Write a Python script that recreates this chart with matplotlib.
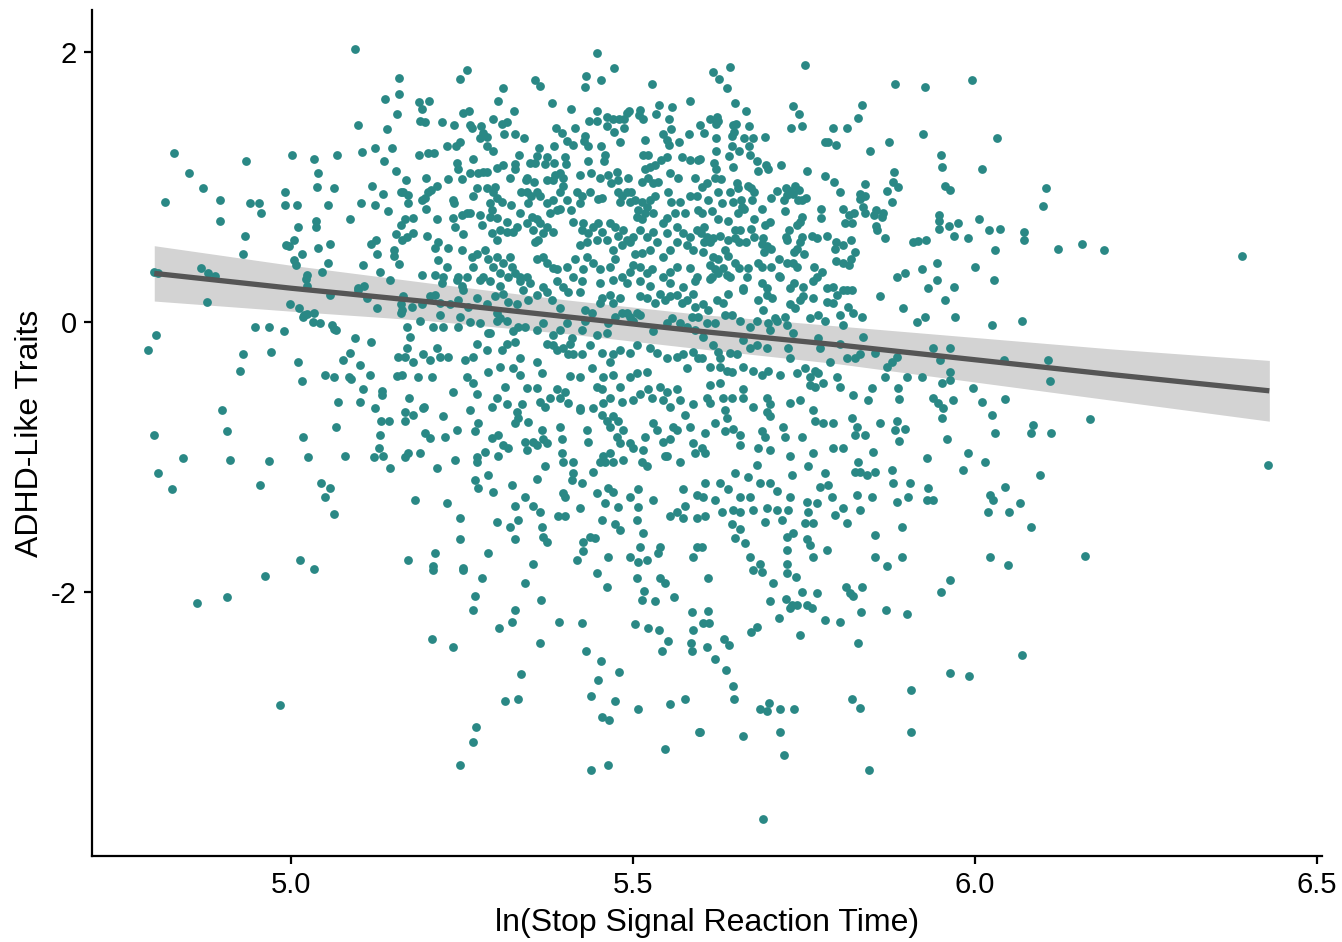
import numpy as np
import matplotlib
matplotlib.use('Agg')
import matplotlib.pyplot as plt

plt.rcParams['font.family'] = ['Liberation Sans', 'DejaVu Sans']

# points, (ln SSRT, ADHD-like traits), grouped by area
left_top = [(5.094,2.02),(5.158,1.81),(5.158,1.69),(5.137,1.65),(5.155,1.54),(5.098,1.46),(5.140,1.43),
    (4.829,1.25),(4.934,1.19),(5.001,1.24),(5.034,1.21),(5.067,1.24),(5.104,1.26),(5.123,1.29),(5.148,1.29),
    (5.136,1.19),(5.154,1.12),(4.851,1.10),(5.039,1.10),(4.871,0.99),(5.038,1.00),(5.063,0.99),(5.118,1.01),
    (5.134,0.95),(5.161,0.96),(4.816,0.89),(4.896,0.90),(4.940,0.88),(4.953,0.88),(4.956,0.81),(4.991,0.96),
    (4.991,0.87),(5.009,0.87),(5.054,0.87),(5.102,0.88),(5.123,0.87),(5.142,0.82),(4.896,0.75),(5.037,0.75),
    (5.037,0.70),(5.010,0.70),(5.086,0.76),(5.161,0.72),(4.933,0.64),(5.004,0.61),(4.993,0.57),(4.997,0.56),
    (5.016,0.50),(5.039,0.55),(5.057,0.58),(5.117,0.58),(5.124,0.61),(5.154,0.65),(5.151,0.53),(5.151,0.49),
    (5.126,0.50),(4.930,0.50),(5.004,0.46),(5.007,0.42),(5.054,0.44),(5.105,0.42),(5.158,0.43),(4.868,0.40),
    (4.879,0.36),(4.889,0.34),(4.800,0.37),(4.806,0.36),(5.023,0.35),(5.022,0.32),(5.023,0.27),(5.045,0.37),
    (5.130,0.37),(5.145,0.31),(5.107,0.27),(5.098,0.25)]

left_mid = [(4.877,0.15),(4.999,0.13),(5.012,0.10),(5.019,0.05),(5.023,0.06),(5.018,0.04),(5.034,0.07),
    (5.057,0.20),(5.098,0.24),(5.111,0.18),(5.126,0.10),(5.161,0.13),(5.161,0.07),(5.032,0.00),(5.042,-0.01),
    (5.060,-0.02),(5.063,-0.05),(5.066,-0.06),(4.947,-0.04),(4.968,-0.04),(4.990,-0.07),(4.803,-0.10),
    (4.791,-0.21),(5.094,-0.12),(5.117,-0.15),(4.930,-0.24),(4.971,-0.22),(5.010,-0.30),(5.086,-0.23),
    (5.076,-0.28),(5.101,-0.32),(5.156,-0.26),(4.925,-0.36),(5.016,-0.44),(5.050,-0.39),(5.063,-0.41),
    (5.085,-0.41),(5.088,-0.42),(5.115,-0.39),(5.155,-0.40),(5.105,-0.50),(5.133,-0.51),(5.133,-0.54),
    (5.069,-0.59),(5.101,-0.59),(5.123,-0.64),(4.899,-0.65),(5.132,-0.73),(5.143,-0.73),(5.066,-0.78),
    (4.906,-0.81),(4.800,-0.84),(5.018,-0.85),(5.130,-0.84),(5.129,-0.93),(5.121,-1.00),(5.134,-0.99),
    (5.079,-0.99),(5.025,-1.00),(4.842,-1.01),(4.911,-1.02),(4.968,-1.03),(5.145,-1.08),(4.806,-1.12),
    (4.826,-1.24),(4.955,-1.21),(5.044,-1.19),(5.057,-1.23),(5.050,-1.30),(5.063,-1.42),(5.013,-1.76),
    (5.034,-1.83),(4.863,-2.08),(4.906,-2.04),(4.962,-1.88),(4.984,-2.84)]

right_side = [(6.104,0.99),(6.099,0.86),(6.072,0.67),(6.072,0.61),(6.121,0.54),(6.156,0.58),(6.189,0.53),
    (6.390,0.49),(6.069,0.01),(6.042,-0.28),(6.107,-0.28),(6.110,-0.44),(6.044,-0.57),(6.168,-0.72),
    (6.085,-0.76),(6.082,-0.82),(6.111,-0.82),(6.428,-1.06),(6.095,-1.13),(6.044,-1.22),(6.066,-1.34),
    (6.050,-1.41),(6.082,-1.52),(6.161,-1.73),(6.048,-1.80),(6.069,-2.47)]

upper_right = [(5.617,1.85),(5.642,1.89),(5.626,1.80),(5.637,1.73),(5.751,1.90),(5.883,1.76),(5.927,1.74),
    (5.996,1.79),(5.649,1.62),(5.665,1.56),(5.734,1.60),(5.743,1.54),(5.835,1.61),(5.829,1.51),(5.731,1.44),
    (5.747,1.45),(5.792,1.44),(5.813,1.44),(5.924,1.39),(6.032,1.36),(5.781,1.33),(5.785,1.33),(5.797,1.31),
    (5.874,1.33),(5.846,1.27),(5.950,1.24),(5.952,1.15),(6.010,1.13),(5.716,1.16),(5.754,1.12),(5.781,1.08),
    (5.794,1.04),(5.803,0.96),(5.882,1.11),(5.880,1.04),(5.887,1.00),(5.839,1.02),(5.871,0.97),(5.956,1.01),
    (5.963,0.98),(5.832,0.95),(5.839,0.93),(5.832,0.91),(5.879,0.89),(5.807,0.84),(5.775,0.84),(5.775,0.77),
    (5.823,0.81),(5.816,0.79),(5.810,0.73),(5.820,0.73),(5.836,0.85),(5.839,0.81),(5.855,0.83),(5.865,0.81),
    (5.852,0.79),(5.864,0.78),(5.855,0.71),(5.857,0.68),(5.868,0.62),(5.947,0.79),(5.947,0.75),(5.947,0.69),
    (5.962,0.71),(5.975,0.73),(6.006,0.76),(6.020,0.68),(6.037,0.69),(5.969,0.64),(5.990,0.62),(5.909,0.59),
    (5.917,0.60),(5.928,0.61),(6.029,0.53),(5.944,0.44),(6.000,0.41),(5.922,0.39),(5.886,0.33),(5.898,0.36),
    (5.944,0.31),(6.028,0.31),(5.969,0.26),(5.931,0.25),
    (5.598,1.46),(5.604,1.40),(5.613,1.50),(5.623,1.52),(5.621,1.47),(5.624,1.49),(5.646,1.46),(5.651,1.47),
    (5.645,1.38),(5.648,1.41),(5.670,1.45),(5.621,1.36),(5.662,1.36),(5.675,1.36),(5.693,1.37),(5.670,1.30),
    (5.671,1.24),(5.645,1.30),(5.655,1.27),(5.640,1.23),(5.621,1.27),(5.598,1.21),(5.618,1.18),(5.621,1.13),
    (5.646,1.15),(5.681,1.19),(5.683,1.12),(5.694,1.16),(5.697,1.13),(5.608,1.03),(5.601,1.00),(5.620,1.07),
    (5.629,1.06),(5.652,1.03),(5.654,0.99),(5.668,1.01),(5.673,0.99),(5.677,0.96),(5.674,0.90),(5.642,0.96),
    (5.711,0.97),(5.724,0.99),(5.730,0.97),(5.737,1.01),(5.743,0.98),(5.734,0.95),(5.725,0.94),(5.624,0.96),
    (5.610,0.90),(5.630,0.88),(5.646,0.89),(5.658,0.90),(5.659,0.85),(5.702,0.92),(5.721,0.90),(5.741,0.90),
    (5.753,0.92),(5.747,0.90),(5.689,0.84),(5.722,0.82),(5.615,0.82),(5.601,0.81),(5.624,0.76),(5.639,0.75),
    (5.654,0.81),(5.662,0.84),(5.677,0.76),(5.693,0.72),(5.700,0.74),(5.744,0.74),(5.747,0.78),(5.740,0.72),
    (5.728,0.68),(5.724,0.63),(5.725,0.61),(5.673,0.69),(5.649,0.68),(5.656,0.68),(5.604,0.70),(5.599,0.66),
    (5.608,0.63),(5.617,0.62),(5.613,0.59),(5.604,0.59),(5.627,0.64),(5.639,0.61),(5.649,0.62),(5.677,0.63),
    (5.690,0.62),(5.689,0.58),(5.696,0.56),(5.702,0.54),(5.692,0.52),(5.655,0.59),(5.665,0.59),(5.747,0.63),
    (5.744,0.59),(5.740,0.54),(5.735,0.52),(5.762,0.64),(5.769,0.62),(5.784,0.64),(5.797,0.59),(5.795,0.54),
    (5.807,0.57),(5.819,0.61),(5.825,0.52),(5.819,0.47),(5.816,0.42),(5.807,0.44),(5.797,0.45),(5.750,0.50),
    (5.713,0.47),(5.725,0.44),(5.734,0.44),(5.740,0.41),(5.765,0.41),(5.776,0.37),(5.769,0.33),(5.763,0.30),
    (5.702,0.41),(5.713,0.34),(5.715,0.33),(5.668,0.40),(5.667,0.33),(5.683,0.44),(5.689,0.41),(5.602,0.52),
    (5.617,0.48),(5.624,0.47),(5.635,0.53),(5.639,0.49),(5.649,0.44),(5.655,0.40),(5.613,0.42),(5.620,0.39),
    (5.616,0.33),(5.624,0.36),(5.632,0.40),(5.637,0.35),(5.642,0.33),(5.613,0.32),(5.735,0.29),(5.749,0.26),
    (5.729,0.25),(5.784,0.25),(5.792,0.26),(5.807,0.24),(5.820,0.24),(5.689,0.29),(5.696,0.25),(5.661,0.25)]

upper_center = [(5.447,1.99),(5.472,1.88),(5.257,1.87),(5.247,1.80),(5.357,1.79),(5.364,1.75),(5.431,1.82),
    (5.430,1.74),(5.453,1.79),(5.528,1.76),(5.583,1.64),(5.310,1.73),(5.303,1.64),(5.187,1.63),(5.202,1.64),
    (5.192,1.58),(5.382,1.62),(5.409,1.58),(5.447,1.56),(5.251,1.55),(5.260,1.56),(5.326,1.56),(5.491,1.55),
    (5.494,1.56),(5.487,1.50),(5.510,1.57),(5.509,1.53),(5.515,1.50),(5.538,1.61),(5.534,1.54),(5.557,1.59),
    (5.462,1.52),(5.471,1.50),(5.480,1.50),(5.462,1.45),(5.436,1.49),(5.447,1.49),(5.430,1.38),(5.472,1.41),
    (5.481,1.33),(5.487,1.44),(5.553,1.50),(5.556,1.43),(5.582,1.39),(5.518,1.35),(5.544,1.39),(5.550,1.35),
    (5.553,1.31),(5.567,1.33),(5.189,1.49),(5.196,1.48),(5.221,1.48),(5.238,1.46),(5.262,1.46),(5.265,1.44),
    (5.278,1.45),(5.281,1.40),(5.276,1.36),(5.287,1.37),(5.295,1.50),(5.308,1.47),(5.316,1.48),(5.311,1.39),
    (5.327,1.39),(5.341,1.36),(5.387,1.44),(5.396,1.40),(5.404,1.34),(5.412,1.31),(5.415,1.44),(5.428,1.34),
    (5.434,1.30),(5.453,1.30),(5.228,1.30),(5.241,1.30),(5.247,1.33),(5.187,1.24),(5.200,1.25),(5.209,1.25),
    (5.287,1.30),(5.295,1.27),(5.333,1.24),(5.363,1.29),(5.360,1.23),(5.374,1.22),(5.385,1.30),(5.401,1.22),
    (5.459,1.24),(5.458,1.19),(5.434,1.19),(5.515,1.24),(5.522,1.24),(5.541,1.20),(5.550,1.22),(5.572,1.22),
    (5.595,1.20),(5.583,1.20),(5.266,1.21),(5.243,1.18),(5.244,1.13),(5.250,1.06),(5.310,1.16),(5.301,1.14),
    (5.281,1.11),(5.273,1.10),(5.262,1.10),(5.287,1.11),(5.327,1.17),(5.327,1.13),(5.320,1.07),(5.349,1.18),
    (5.357,1.18),(5.371,1.17),(5.385,1.18),(5.402,1.17),(5.393,1.10),(5.345,1.07),(5.344,1.05),(5.355,1.04),
    (5.374,1.05),(5.386,1.09),(5.398,1.07),(5.398,1.01),(5.383,1.05),(5.422,1.09),(5.439,1.10),(5.452,1.07),
    (5.463,1.09),(5.477,1.11),(5.468,1.03),(5.478,1.05),(5.493,1.07),(5.518,1.13),(5.525,1.15),(5.532,1.16),
    (5.513,1.04),(5.522,1.07),(5.529,1.03),(5.537,1.04),(5.554,1.10),(5.566,1.07),(5.591,1.07),(5.168,1.05),
    (5.197,1.07),(5.213,1.01),(5.230,1.06),(5.164,0.96),(5.171,0.94),(5.171,0.88),(5.205,0.98),(5.200,0.96),
    (5.196,0.92),(5.192,0.90),(5.197,0.84),(5.237,0.90),(5.238,0.88),(5.266,0.93),(5.272,0.99),(5.287,0.99),
    (5.298,1.00),(5.295,0.96),(5.301,0.92),(5.291,0.88),(5.308,0.89),(5.322,0.87),(5.336,0.96),(5.345,0.96),
    (5.351,0.93),(5.346,0.88),(5.360,0.96),(5.364,0.93),(5.374,0.88),(5.383,0.90),(5.393,0.96),(5.404,0.90),
    (5.409,0.83),(5.389,0.83),(5.379,0.81),(5.393,0.84),(5.418,0.96),(5.425,0.93),(5.437,0.96),(5.423,0.88),
    (5.449,0.91),(5.455,0.92),(5.478,0.96),(5.484,0.93),(5.491,0.96),(5.497,0.96),(5.481,0.89),(5.496,0.89),
    (5.503,0.90),(5.513,0.89),(5.525,0.90),(5.532,0.93),(5.520,0.85),(5.507,0.83),(5.518,0.81),(5.529,0.81),
    (5.551,0.96),(5.569,0.89),(5.556,0.89),(5.583,0.93),(5.594,0.93),(5.595,0.83),(5.576,0.81),(5.561,0.81),
    (5.550,0.77),(5.544,0.73),(5.237,0.77),(5.250,0.79),(5.257,0.81),(5.262,0.81),(5.240,0.70),(5.251,0.65),
    (5.276,0.79),(5.279,0.72),(5.294,0.83),(5.291,0.78),(5.301,0.77),(5.316,0.74),(5.335,0.81),(5.330,0.70),
    (5.325,0.67),(5.316,0.67),(5.306,0.68),(5.301,0.61),(5.294,0.66),(5.345,0.73),(5.352,0.78),(5.360,0.76),
    (5.354,0.68),(5.364,0.73),(5.374,0.70),(5.383,0.67),(5.368,0.66),(5.361,0.61),(5.357,0.59),(5.412,0.74),
    (5.425,0.68),(5.427,0.73),(5.434,0.66),(5.442,0.70),(5.449,0.73),(5.455,0.67),(5.447,0.61),(5.433,0.59),
    (5.422,0.57),(5.466,0.73),(5.474,0.70),(5.478,0.64),(5.485,0.68),(5.491,0.61),(5.496,0.59),(5.484,0.57),
    (5.471,0.53),(5.462,0.61),(5.506,0.78),(5.513,0.76),(5.510,0.68),(5.500,0.63),(5.520,0.63),(5.529,0.67),
    (5.535,0.59),(5.525,0.53),(5.513,0.51),(5.503,0.50),(5.550,0.66),(5.564,0.70),(5.573,0.66),(5.583,0.63),
    (5.594,0.68),(5.579,0.57),(5.588,0.53),(5.564,0.59),(5.554,0.53),(5.544,0.48),(5.167,0.76),(5.178,0.77),
    (5.170,0.63),(5.178,0.66),(5.162,0.61),(5.213,0.76),(5.199,0.64),(5.211,0.55),(5.215,0.59),(5.230,0.55),
    (5.250,0.53),(5.215,0.46),(5.228,0.41),(5.192,0.35),(5.211,0.35),(5.221,0.29),(5.265,0.48),(5.272,0.50),
    (5.284,0.53),(5.266,0.41),(5.244,0.33),(5.257,0.33),(5.281,0.33),(5.288,0.47),(5.301,0.48),(5.295,0.41),
    (5.310,0.44),(5.320,0.48),(5.323,0.41),(5.306,0.36),(5.317,0.33),(5.327,0.36),(5.335,0.33),(5.345,0.33),
    (5.360,0.47),(5.368,0.48),(5.374,0.44),(5.383,0.40),(5.389,0.39),(5.404,0.41),(5.415,0.47),(5.427,0.39),
    (5.433,0.48),(5.442,0.44),(5.452,0.39),(5.466,0.41),(5.474,0.47),(5.484,0.33),(5.496,0.37),(5.500,0.42),
    (5.510,0.41),(5.520,0.36),(5.528,0.39),(5.544,0.33),(5.554,0.37),(5.564,0.41),(5.583,0.40),(5.594,0.33),
    (5.222,0.33),(5.243,0.31),(5.250,0.27),(5.276,0.31),(5.291,0.30),(5.306,0.27),(5.335,0.30),(5.349,0.29),
    (5.368,0.26),(5.389,0.30),(5.398,0.26),(5.412,0.33),(5.425,0.30),(5.452,0.29),(5.471,0.31),(5.491,0.29),
    (5.510,0.30),(5.525,0.27),(5.554,0.29),(5.573,0.26),(5.591,0.30)]

center_mid = [(5.164,0.19),(5.162,0.09),(5.177,0.11),(5.192,0.13),(5.203,0.19),(5.211,0.20),(5.218,0.14),
    (5.232,0.13),(5.244,0.16),(5.251,0.24),(5.259,0.11),(5.272,0.18),(5.287,0.13),(5.298,0.19),(5.301,0.07),
    (5.310,0.21),(5.317,0.15),(5.330,0.13),(5.339,0.24),(5.346,0.16),(5.360,0.20),(5.374,0.22),(5.382,0.16),
    (5.393,0.10),(5.405,0.22),(5.423,0.22),(5.430,0.09),(5.440,0.07),(5.452,0.14),(5.455,0.18),(5.466,0.20),
    (5.471,0.14),(5.481,0.18),(5.491,0.07),(5.506,0.07),(5.510,0.19),(5.520,0.18),(5.532,0.14),(5.539,0.21),
    (5.547,0.16),(5.554,0.19),(5.564,0.20),(5.572,0.14),(5.579,0.16),(5.588,0.21),(5.591,0.11),(5.595,0.04),
    (5.170,-0.04),(5.174,-0.11),(5.189,0.01),(5.208,-0.04),(5.222,-0.04),(5.218,0.05),(5.247,0.04),
    (5.244,-0.04),(5.262,0.00),(5.276,-0.01),(5.288,-0.08),(5.301,0.01),(5.306,0.03),(5.316,0.01),
    (5.325,-0.07),(5.332,-0.04),(5.342,-0.04),(5.360,-0.06),(5.368,-0.01),(5.383,-0.10),(5.393,-0.06),
    (5.404,-0.01),(5.411,-0.12),(5.425,-0.06),(5.430,0.01),(5.447,-0.10),(5.462,-0.08),(5.463,-0.01),
    (5.474,0.04),(5.484,0.07),(5.496,0.04),(5.500,0.01),(5.510,0.05),(5.529,-0.07),(5.550,-0.01),(5.557,0.03),
    (5.569,-0.01),(5.579,-0.04),(5.591,-0.06),(5.586,0.04),
    (5.170,-0.19),(5.167,-0.26),(5.178,-0.30),(5.193,-0.24),(5.203,-0.28),(5.213,-0.19),(5.218,-0.26),
    (5.230,-0.26),(5.254,-0.28),(5.266,-0.26),(5.272,-0.16),(5.287,-0.21),(5.291,-0.08),(5.308,-0.21),
    (5.316,-0.16),(5.327,-0.15),(5.335,-0.27),(5.360,-0.30),(5.374,-0.16),(5.383,-0.17),(5.389,-0.21),
    (5.398,-0.19),(5.408,-0.16),(5.405,-0.24),(5.412,-0.24),(5.425,-0.24),(5.437,-0.17),(5.455,-0.23),
    (5.466,-0.30),(5.471,-0.24),(5.481,-0.21),(5.496,-0.23),(5.506,-0.17),(5.525,-0.19),(5.535,-0.23),
    (5.550,-0.27),(5.564,-0.26),(5.573,-0.24),(5.588,-0.22),(5.595,-0.27),
    (5.162,-0.39),(5.186,-0.41),(5.206,-0.41),(5.237,-0.52),(5.257,-0.41),(5.266,-0.45),(5.272,-0.53),
    (5.288,-0.37),(5.306,-0.33),(5.313,-0.48),(5.325,-0.34),(5.335,-0.39),(5.345,-0.49),(5.360,-0.49),
    (5.367,-0.38),(5.389,-0.50),(5.401,-0.52),(5.408,-0.40),(5.423,-0.41),(5.440,-0.34),(5.447,-0.48),
    (5.456,-0.41),(5.455,-0.50),(5.471,-0.39),(5.481,-0.48),(5.496,-0.41),(5.506,-0.38),(5.520,-0.37),
    (5.522,-0.50),(5.539,-0.48),(5.550,-0.52),(5.564,-0.50),(5.579,-0.34),(5.173,-0.56),(5.194,-0.63),
    (5.294,-0.63),(5.301,-0.56),(5.316,-0.61),(5.338,-0.61),(5.364,-0.59),(5.371,-0.63),(5.379,-0.56),
    (5.393,-0.56),(5.405,-0.60),(5.423,-0.64),(5.442,-0.64),(5.456,-0.60),(5.466,-0.56),(5.484,-0.59),
    (5.500,-0.58),(5.510,-0.53),(5.528,-0.56),(5.544,-0.58),(5.554,-0.63),(5.569,-0.58),(5.588,-0.61),
    (5.167,-0.67),(5.167,-0.73),(5.178,-0.69),(5.193,-0.64),(5.222,-0.70),(5.243,-0.80),(5.196,-0.82),
    (5.203,-0.86),(5.225,-0.85),(5.269,-0.81),(5.273,-0.75),(5.262,-0.65),(5.294,-0.86),(5.303,-0.84),
    (5.310,-0.91),(5.317,-0.93),(5.284,-0.96),(5.272,-1.00),(5.303,-0.99),(5.330,-0.67),(5.332,-0.71),
    (5.327,-0.75),(5.346,-0.74),(5.367,-0.80),(5.368,-0.87),(5.374,-0.90),(5.342,-0.89),(5.354,-0.89),
    (5.360,-0.91),(5.345,-0.95),(5.393,-0.78),(5.396,-0.87),(5.396,-0.97),(5.423,-0.65),(5.433,-0.80),
    (5.434,-0.89),(5.455,-0.69),(5.462,-0.73),(5.471,-0.70),(5.478,-0.73),(5.466,-0.78),(5.485,-0.80),
    (5.477,-0.85),(5.481,-0.90),(5.496,-0.90),(5.500,-0.93),(5.515,-0.95),(5.518,-0.85),(5.529,-0.75),
    (5.535,-0.80),(5.544,-0.89),(5.554,-0.87),(5.558,-0.78),(5.564,-0.80),(5.576,-0.69),(5.583,-0.78),
    (5.588,-0.90),(5.591,-0.97),(5.550,-0.99),(5.569,-1.04),(5.167,-1.00),(5.171,-0.97),(5.189,-0.97),
    (5.213,-1.08),(5.240,-1.02),
    (5.272,-1.04),(5.288,-1.13),(5.269,-1.17),(5.273,-1.23),(5.295,-1.26),(5.323,-1.21),(5.360,-1.16),
    (5.371,-1.07),(5.398,-1.04),(5.412,-1.04),(5.412,-1.12),(5.411,-1.17),(5.425,-1.19),(5.398,-1.27),
    (5.401,-1.30),(5.442,-1.11),(5.452,-1.04),(5.459,-1.04),(5.456,-0.99),(5.466,-0.97),(5.471,-1.04),
    (5.485,-1.02),(5.513,-1.04),(5.520,-1.07),(5.547,-0.99),(5.447,-1.27),(5.463,-1.23),(5.471,-1.26),
    (5.496,-1.30),(5.507,-1.24),(5.529,-1.32),(5.573,-1.24),(5.594,-1.28),(5.181,-1.32),(5.228,-1.34),
    (5.247,-1.45),(5.301,-1.48),(5.320,-1.52),(5.327,-1.36),(5.342,-1.30),(5.354,-1.36),(5.364,-1.41),
    (5.332,-1.47),(5.367,-1.52),(5.368,-1.59),(5.374,-1.63),(5.327,-1.61),(5.390,-1.44),(5.401,-1.44),
    (5.423,-1.38),(5.455,-1.47),(5.459,-1.34),(5.474,-1.50),(5.481,-1.54),(5.478,-1.37),(5.507,-1.37),
    (5.506,-1.47),(5.515,-1.56),(5.554,-1.44),(5.564,-1.41),(5.576,-1.36),(5.573,-1.45),(5.594,-1.45),
    (5.247,-1.61),(5.288,-1.71),(5.211,-1.71),(5.171,-1.76),(5.208,-1.81),(5.251,-1.82),(5.354,-1.79),
    (5.418,-1.76),(5.427,-1.70),(5.437,-1.59),(5.444,-1.60),(5.427,-1.63),(5.463,-1.74),(5.496,-1.74),
    (5.510,-1.67),(5.507,-1.78),(5.520,-1.76),(5.537,-1.71),(5.539,-1.67),(5.588,-1.74),(5.594,-1.67)]

right_center = [(5.602,0.13),(5.610,0.09),(5.623,0.16),(5.632,0.14),(5.639,0.21),(5.661,0.24),(5.683,0.16),
    (5.690,0.09),(5.696,0.20),(5.703,0.18),(5.711,0.01),(5.722,0.04),(5.725,-0.02),(5.730,0.13),(5.737,0.10),
    (5.744,0.16),(5.749,0.19),(5.759,0.03),(5.763,0.18),(5.770,0.05),(5.784,0.15),(5.781,0.01),(5.792,0.14),
    (5.798,0.20),(5.803,0.05),(5.813,0.24),(5.814,0.11),(5.822,0.07),(5.835,0.04),(5.807,-0.02),(5.861,0.19),
    (5.895,0.10),(5.915,0.00),(5.927,0.04),(5.956,0.16),(5.971,0.04),(6.025,-0.02),(5.608,-0.01),(5.620,-0.01),
    (5.635,0.05),(5.645,0.05),(5.656,0.01),(5.671,-0.04),(5.681,0.01),(5.697,-0.01),(5.708,0.03),
    (5.602,-0.11),(5.617,-0.17),(5.624,-0.22),(5.627,-0.27),(5.642,-0.23),(5.652,-0.24),(5.661,-0.13),
    (5.671,-0.19),(5.681,-0.17),(5.696,-0.19),(5.700,-0.06),(5.727,-0.19),(5.730,-0.27),(5.734,-0.08),
    (5.770,-0.12),(5.773,-0.19),(5.788,-0.30),(5.803,-0.16),(5.813,-0.27),(5.825,-0.27),(5.832,-0.24),
    (5.836,-0.11),(5.854,-0.23),(5.871,-0.33),(5.879,-0.30),(5.886,-0.26),(5.939,-0.19),(5.949,-0.28),
    (5.963,-0.19),(5.601,-0.27),(5.613,-0.33),(5.627,-0.33),(5.637,-0.36),(5.645,-0.37),(5.661,-0.33),
    (5.675,-0.36),(5.689,-0.39),(5.697,-0.36),(5.715,-0.39),(5.740,-0.38),(5.751,-0.34),(5.759,-0.41),
    (5.766,-0.36),(5.770,-0.38),(5.868,-0.41),(5.901,-0.41),(5.922,-0.41),(5.952,-0.45),(5.963,-0.43),
    (5.963,-0.37),
    (5.613,-0.47),(5.627,-0.45),(5.608,-0.56),(5.613,-0.60),(5.632,-0.56),(5.645,-0.56),(5.661,-0.56),
    (5.661,-0.50),(5.675,-0.63),(5.696,-0.56),(5.700,-0.61),(5.696,-0.67),(5.700,-0.70),(5.730,-0.60),
    (5.744,-0.58),(5.759,-0.47),(5.766,-0.48),(5.778,-0.45),(5.798,-0.41),(5.803,-0.48),(5.822,-0.54),
    (5.844,-0.58),(5.849,-0.49),(5.887,-0.49),(5.889,-0.57),(5.939,-0.56),(5.946,-0.60),(5.953,-0.64),
    (5.952,-0.71),(5.968,-0.58),(5.997,-0.49),(6.010,-0.59),(6.025,-0.69),(5.620,-0.75),(5.635,-0.65),
    (5.637,-0.71),(5.646,-0.79),(5.635,-0.81),(5.605,-0.82),(5.601,-0.93),(5.605,-0.97),(5.656,-0.84),
    (5.656,-0.91),(5.689,-0.81),(5.693,-0.85),(5.683,-0.93),(5.700,-0.95),(5.719,-0.78),(5.722,-0.85),
    (5.747,-0.85),(5.763,-0.65),(5.766,-0.73),(5.778,-0.75),(5.792,-0.75),(5.820,-0.71),(5.827,-0.78),
    (5.825,-0.84),(5.839,-0.84),(5.792,-0.93),(5.807,-0.93),(5.861,-0.75),(5.883,-0.80),(5.898,-0.79),
    (5.886,-0.73),(5.889,-0.88),(5.851,-0.96),(5.930,-1.01),(5.959,-0.87),(5.990,-0.97),(6.015,-1.04),
    (6.029,-0.82),
    (5.627,-1.19),(5.649,-1.12),(5.668,-1.15),(5.681,-1.06),(5.686,-1.19),(5.700,-1.19),(5.711,-1.25),
    (5.730,-0.99),(5.732,-1.13),(5.756,-1.07),(5.763,-0.97),(5.781,-1.12),(5.785,-1.21),(5.773,-1.22),
    (5.829,-1.04),(5.825,-1.11),(5.832,-1.11),(5.842,-1.13),(5.854,-1.11),(5.879,-1.10),(5.880,-1.19),
    (5.902,-1.30),(5.905,-1.19),(5.931,-1.23),(5.930,-1.32),(5.939,-1.32),(5.982,-1.10),(6.022,-1.28),
    (6.026,-1.32),(6.019,-1.41),(5.605,-1.19),(5.602,-1.30),(5.620,-1.32),(5.639,-1.24),(5.656,-1.30),
    (5.671,-1.30),(5.646,-1.39),(5.656,-1.41),(5.675,-1.39),(5.696,-1.38),(5.711,-1.39),(5.730,-1.30),
    (5.727,-1.39),(5.754,-1.33),(5.756,-1.41),(5.769,-1.34),(5.791,-1.30),(5.807,-1.38),(5.827,-1.28),
    (5.832,-1.39),(5.849,-1.30),(5.886,-1.33),(5.605,-1.44),(5.630,-1.41),(5.645,-1.50),(5.656,-1.53),
    (5.693,-1.48),(5.718,-1.47),(5.734,-1.56),(5.751,-1.49),(5.763,-1.49),(5.795,-1.43),(5.813,-1.49),
    (5.893,-1.52),(5.725,-1.59),(5.754,-1.61),(5.759,-1.65),(5.649,-1.60),(5.664,-1.64),(5.601,-1.67),
    (5.725,-1.69),(5.784,-1.69),(5.671,-1.74),(5.763,-1.74),(5.854,-1.58),(5.854,-1.74),(5.893,-1.74),
    (5.871,-1.81),(6.022,-1.74),(5.686,-1.79),(5.725,-1.79)]

bottom = [(5.208,-1.84),(5.251,-1.84),(5.279,-1.90),(5.342,-1.93),(5.269,-2.03),(5.266,-2.13),(5.327,-2.13),
    (5.323,-2.22),(5.304,-2.27),(5.365,-2.06),(5.206,-2.35),(5.237,-2.41),(5.364,-2.38),(5.392,-2.22),
    (5.425,-2.23),(5.431,-2.44),(5.447,-1.86),(5.462,-1.96),(5.453,-2.51),(5.480,-2.59),(5.449,-2.65),
    (5.439,-2.77),(5.474,-2.81),(5.455,-2.93),(5.465,-2.95),(5.506,-1.90),(5.516,-1.99),(5.513,-2.06),
    (5.532,-2.07),(5.539,-1.90),(5.547,-1.93),(5.560,-2.04),(5.586,-2.15),(5.588,-2.28),(5.503,-2.24),
    (5.522,-2.27),(5.538,-2.28),(5.551,-2.36),(5.542,-2.44),(5.585,-2.38),(5.586,-2.44),(5.336,-2.61),
    (5.313,-2.81),(5.332,-2.79),(5.270,-3.00),(5.266,-3.11),(5.247,-3.28),(5.439,-3.32),(5.463,-3.28),
    (5.507,-2.87),(5.554,-2.83),(5.576,-2.79),(5.547,-3.16),(5.596,-3.04),
    (5.610,-1.90),(5.675,-1.84),(5.689,-1.85),(5.725,-1.86),(5.738,-1.89),(5.705,-1.93),(5.747,-2.00),
    (5.769,-2.01),(5.724,-2.05),(5.700,-2.07),(5.732,-2.10),(5.740,-2.10),(5.730,-2.12),(5.754,-2.10),
    (5.762,-2.12),(5.713,-2.19),(5.781,-2.21),(5.803,-2.22),(5.811,-1.96),(5.835,-1.96),(5.817,-2.01),
    (5.822,-2.03),(5.833,-2.15),(5.870,-2.13),(5.901,-2.16),(5.950,-2.00),(5.963,-1.91),(5.610,-2.14),
    (5.602,-2.23),(5.611,-2.23),(5.673,-2.30),(5.681,-2.26),(5.744,-2.32),(5.829,-2.38),(5.633,-2.35),
    (5.640,-2.39),(5.608,-2.41),(5.620,-2.50),(5.636,-2.58),(5.646,-2.70),(5.648,-2.79),(5.963,-2.60),
    (5.991,-2.62),(5.906,-2.73),(5.820,-2.79),(5.832,-2.86),(5.686,-2.87),(5.696,-2.88),(5.699,-2.82),
    (5.715,-2.87),(5.735,-2.87),(5.598,-3.04),(5.661,-3.07),(5.715,-3.04),(5.906,-3.04),(5.721,-3.21),
    (5.845,-3.32),(5.690,-3.68)]

# linear fit and its confidence band, read at a few x positions
fit_x = [4.80, 5.00, 5.20, 5.40, 5.60, 5.80, 6.00, 6.20, 6.43]
fit_y = [0.36, 0.25, 0.15, 0.04, -0.07, -0.17, -0.28, -0.39, -0.51]
ci_lo = [0.155, 0.08, 0.01, -0.085, -0.20, -0.31, -0.445, -0.58, -0.735]
ci_hi = [0.565, 0.42, 0.29, 0.165, 0.055, -0.03, -0.115, -0.20, -0.285]

pts = np.array(left_top + left_mid + right_side + upper_right + upper_center
               + center_mid + right_center + bottom)
x = pts[:, 0]
y = pts[:, 1]

fig = plt.figure(figsize=(13.42, 9.42), dpi=100)
ax = fig.add_axes([92/1342, 86/942, 1230/1342, 846/942])

ax.fill_between(fit_x, ci_lo, ci_hi, color='#D3D3D3', lw=0, zorder=1)
ax.scatter(x, y, s=40, color='#2A8885', lw=0, zorder=2)
ax.plot(fit_x, fit_y, color='#555555', lw=3.8, zorder=3, solid_capstyle='butt')

ax.set_xlim(4.709, 6.507)
ax.set_ylim(-3.956, 2.311)
ax.set_xticks([5.0, 5.5, 6.0, 6.5])
ax.set_xticklabels(['5.0', '5.5', '6.0', '6.5'])
ax.set_yticks([-2, 0, 2])
ax.set_yticklabels(['-2', '0', '2'])

for s in ['top', 'right']:
    ax.spines[s].set_visible(False)
for s in ['left', 'bottom']:
    ax.spines[s].set_linewidth(1.6)
ax.tick_params(axis='both', length=6, width=1.6, labelsize=21, colors='black', pad=5)

ax.set_xlabel('ln(Stop Signal Reaction Time)', fontsize=23, labelpad=6)
ax.set_ylabel('ADHD-Like Traits', fontsize=23, labelpad=4)

fig.savefig('out.png', dpi=100)
